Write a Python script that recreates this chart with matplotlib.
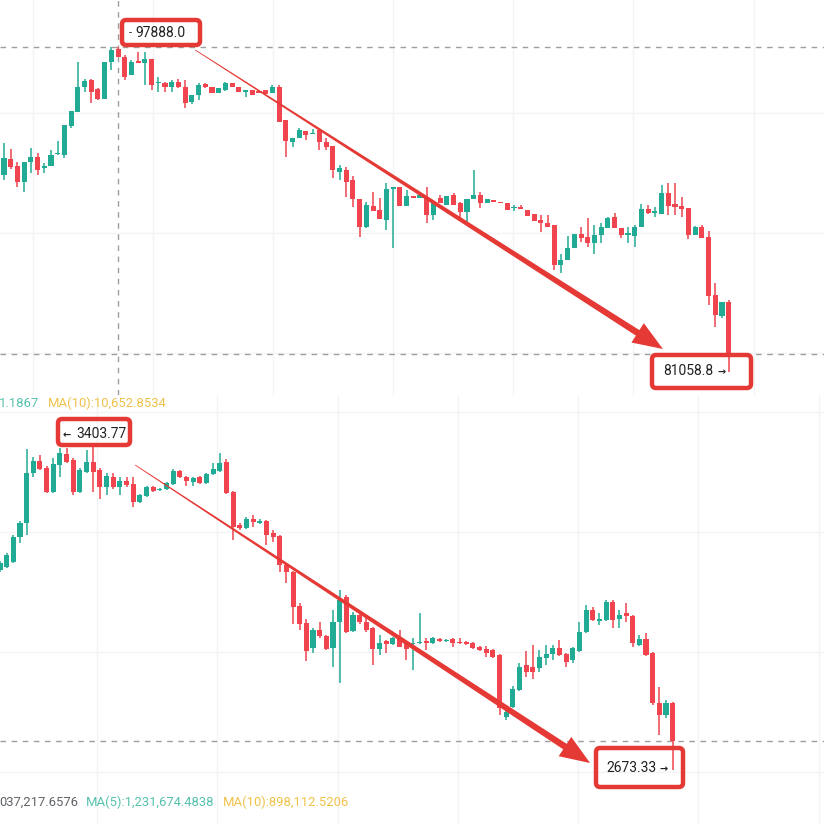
import matplotlib.pyplot as plt
import numpy as np
from matplotlib.patches import FancyBboxPatch, Polygon

# ---- BTC (top pane) candles, oldest -> newest ----
top_open = [90861, 91738, 91354, 90478, 91573, 91847, 91245, 91354, 92011, 91957,
            93545, 94312, 95681, 96064, 95571, 95024, 97050, 97762, 97324, 96338,
            97105, 96995, 97215, 95900, 95900, 95681, 95955, 95681, 94860, 95243,
            95845, 95681, 95352, 95517, 95900, 95681, 95407, 95517, 95462, 95517,
            95352, 95681, 93874, 92669, 92888, 93271, 93107, 93326, 92669, 92450,
            91026, 91135, 90587, 89547, 88014, 89164, 88945, 88397, 90094, 90204,
            89164, 89711, 89602, 89657, 88671, 89602, 89218, 89766, 89328, 88835,
            89547, 89766, 89328, 89492, 89383, 89328, 89054, 89109, 88945, 88725,
            88397, 88233, 88123, 85932, 86206, 86863, 87630, 87466, 87137, 87575,
            87959, 88561, 87959, 87575, 87521, 88014, 88999, 88780, 88725, 89876,
            89273, 89164, 89054, 87575, 88014, 87466, 84289, 83139, 83905]
top_high = [92614, 92285, 91573, 91573, 92340, 92066, 91518, 92231, 92723, 93600,
            94367, 97050, 96119, 96119, 95626, 97050, 97888, 97872, 97434, 97160,
            97598, 97598, 97215, 96229, 95955, 96064, 96119, 96064, 95243, 95900,
            95900, 95681, 95626, 95955, 95900, 95681, 95517, 95517, 95462, 95517,
            95791, 95791, 93874, 92888, 93436, 93271, 93381, 93326, 92888, 92450,
            91409, 91300, 90806, 89547, 89383, 89930, 89602, 90423, 90204, 90204,
            90040, 89711, 89766, 90204, 89383, 89766, 89711, 89876, 89383, 89547,
            91135, 89930, 89547, 89492, 89383, 89328, 89218, 89218, 88945, 88725,
            88671, 88671, 88123, 86534, 87521, 87630, 88014, 88506, 88123, 88233,
            88561, 88780, 87959, 88014, 88123, 89273, 89218, 89109, 90314, 90423,
            90423, 89657, 89054, 88068, 88123, 87795, 84946, 83905, 84015]
top_low = [90587, 91190, 90204, 89930, 90971, 90861, 90971, 91354, 91957, 91792,
           93436, 94312, 95407, 94805, 94969, 95024, 96612, 97324, 96064, 96338,
           96995, 95791, 95517, 95407, 95407, 95407, 95626, 94531, 94750, 94969,
           95626, 95352, 95352, 95462, 95681, 95407, 95133, 95243, 95352, 95298,
           95352, 93764, 91847, 92395, 92888, 92778, 93107, 92231, 92231, 90697,
           90587, 89657, 89109, 87466, 87959, 88890, 88452, 87849, 86863, 89164,
           89164, 89602, 89602, 88233, 88397, 89328, 89218, 89218, 88561, 88287,
           89547, 89054, 89328, 89383, 89328, 88945, 88890, 88999, 88616, 88342,
           87740, 88014, 85658, 85494, 86206, 86863, 87192, 86918, 86534, 87137,
           87959, 87959, 87411, 87137, 86918, 88014, 88725, 88561, 88725, 88671,
           88671, 88561, 87356, 87575, 87411, 83741, 82536, 83029, 80071]
top_close = [91792, 91300, 90478, 91573, 91847, 91135, 91354, 91957, 92066, 93600,
             94367, 95681, 96010, 95407, 95024, 97050, 97708, 97324, 96229, 97050,
             96995, 97215, 95791, 95955, 95681, 95955, 95681, 94805, 95243, 95791,
             95681, 95352, 95626, 95900, 95681, 95407, 95517, 95243, 95352, 95298,
             95681, 93764, 92723, 92888, 93326, 93052, 93162, 92669, 92395, 91135,
             91245, 90478, 89547, 88014, 89218, 88890, 88452, 90094, 90204, 89164,
             89711, 89602, 89766, 88671, 89383, 89328, 89711, 89218, 88835, 89547,
             89766, 89328, 89547, 89383, 89328, 88945, 89109, 88999, 88616, 88342,
             88233, 88014, 85932, 86206, 86863, 87630, 87411, 87137, 87575, 88014,
             88506, 87959, 87575, 87685, 88014, 88999, 88780, 88890, 89876, 89164,
             89109, 88999, 87575, 88014, 87411, 84234, 83193, 83905, 81058.8]

# ---- ETH (bottom pane) candles ----
bot_open = [3098, 3106, 3118, 3180, 3215, 3339, 3369, 3352, 3292, 3359,
            3386, 3372, 3292, 3342, 3367, 3347, 3304, 3329, 3304, 3319,
            3312, 3267, 3282, 3304, 3297, 3299, 3312, 3344, 3329, 3317,
            3329, 3314, 3337, 3344, 3367, 3292, 3210, 3203, 3225, 3215,
            3220, 3190, 3183, 3111, 3093, 3009, 2967, 2904, 2949, 2934,
            2904, 2969, 3031, 2947, 2986, 2969, 2954, 2902, 2922, 2914,
            2929, 2917, 2914, 2917, 2922, 2917, 2927, 2922, 2927, 2919,
            2919, 2917, 2907, 2902, 2899, 2887, 2733, 2758, 2800, 2862,
            2857, 2855, 2880, 2890, 2904, 2890, 2875, 2897, 2944, 2999,
            2972, 2974, 3019, 2976, 2991, 2984, 2912, 2927, 2892, 2768,
            2738, 2768]
bot_high = [3121, 3140, 3185, 3220, 3399, 3379, 3384, 3357, 3376, 3402,
            3401, 3376, 3352, 3396, 3403.77, 3352, 3339, 3339, 3329, 3329,
            3329, 3287, 3307, 3307, 3302, 3317, 3349, 3347, 3332, 3329,
            3332, 3339, 3364, 3389, 3374, 3295, 3215, 3230, 3235, 3225,
            3222, 3198, 3185, 3116, 3096, 3016, 2976, 2954, 2969, 2937,
            2999, 3049, 3036, 2994, 2989, 2979, 2957, 2937, 2924, 2932,
            2949, 2919, 2929, 2991, 2929, 2932, 2929, 2927, 2929, 2929,
            2922, 2919, 2909, 2909, 2902, 2890, 2758, 2810, 2867, 2897,
            2912, 2899, 2912, 2912, 2924, 2892, 2907, 2969, 3011, 3006,
            2991, 3024, 3024, 2999, 3016, 2986, 2937, 2942, 2895, 2808,
            2775, 2770]
bot_low = [3093, 3103, 3116, 3165, 3185, 3329, 3347, 3290, 3290, 3329,
           3364, 3285, 3290, 3339, 3292, 3275, 3285, 3299, 3285, 3304,
           3255, 3265, 3280, 3292, 3295, 3297, 3309, 3327, 3307, 3307,
           3312, 3312, 3334, 3342, 3287, 3173, 3198, 3200, 3205, 3213,
           3160, 3168, 3093, 3066, 2964, 2949, 2872, 2892, 2929, 2899,
           2857, 2817, 2942, 2944, 2964, 2944, 2862, 2887, 2892, 2912,
           2907, 2875, 2850, 2914, 2899, 2914, 2919, 2919, 2907, 2914,
           2912, 2902, 2897, 2882, 2880, 2738, 2725, 2755, 2798, 2832,
           2827, 2845, 2862, 2875, 2885, 2857, 2867, 2895, 2942, 2972,
           2962, 2972, 2954, 2954, 2969, 2907, 2909, 2885, 2763, 2688,
           2730, 2601]
bot_close = [3116, 3136, 3180, 3215, 3339, 3369, 3349, 3292, 3362, 3389,
             3367, 3292, 3347, 3367, 3342, 3304, 3332, 3304, 3319, 3309,
             3267, 3285, 3304, 3295, 3299, 3314, 3344, 3329, 3319, 3327,
             3314, 3337, 3349, 3364, 3290, 3205, 3203, 3225, 3217, 3220,
             3185, 3180, 3111, 3093, 3006, 2964, 2897, 2949, 2934, 2902,
             2969, 3024, 2944, 2986, 2969, 2949, 2902, 2917, 2914, 2929,
             2907, 2902, 2917, 2919, 2917, 2929, 2922, 2924, 2917, 2917,
             2914, 2904, 2899, 2892, 2882, 2755, 2745, 2803, 2857, 2845,
             2845, 2882, 2890, 2904, 2887, 2870, 2904, 2944, 2999, 2974,
             2976, 3019, 2974, 2986, 2984, 2917, 2927, 2887, 2768, 2738,
             2768, 2673.33]

top_hi_label, top_lo_label = 97888.0, 81058.8
bot_hi_label, bot_lo_label = 3403.77, 2673.33
ma_top = ['1.1867', 'MA(10):10,652.8534']
ma_bot = ['037,217.6576', 'MA(5):1,231,674.4838', 'MA(10):898,112.5206']

W = H = 824
UP = '#22ab94'
DOWN = '#f0444f'
RED = '#e53935'
GRID = '#f3f4f6'
DASH = '#9e9e9e'
TEAL = '#56c1ad'
GOLD = '#efc24a'
FONT = ['Roboto', 'DejaVu Sans']

fig = plt.figure(figsize=(8.24, 8.24), dpi=100)
fig.patch.set_facecolor('white')

split = 395  # pixel row between the two panes
ax1 = fig.add_axes([0, 1 - split / H, 1, split / H])
ax2 = fig.add_axes([0, 0, 1, 1 - split / H])

ax1.set_xlim(-4 / 6.71, (W - 4) / 6.71)
ax1.set_ylim(100446 - 54.77 * split, 100446)
ax2.set_xlim(0, W / 6.66)
ax2.set_ylim(4514.34 - 2.4845 * H, 4514.34 - 2.4845 * split)

ax1.set_xticks(np.arange(4.3, 122, 17.9))
ax1.set_yticks([94250, 87700, 81100])
ax2.set_xticks(np.arange(14.6, 124, 18.05))
ax2.set_yticks([3490, 3192, 2894, 2596])
for ax in (ax1, ax2):
    ax.set_facecolor('white')
    for s in ax.spines.values():
        s.set_visible(False)
    ax.tick_params(length=0, labelbottom=False, labelleft=False)
    ax.grid(True, color=GRID, lw=1)
    ax.set_axisbelow(True)


def draw_candles(ax, o, h, l, c, min_h):
    o, h, l, c = map(np.asarray, (o, h, l, c))
    x = np.arange(len(o))
    cols = np.where(c >= o, UP, DOWN)
    ax.vlines(x, l, h, colors=cols, lw=1.1, zorder=2)
    body = np.maximum(np.abs(c - o), min_h)
    ax.bar(x, body, bottom=np.minimum(o, c), width=0.76, color=cols,
           linewidth=0, zorder=3)


draw_candles(ax1, top_open, top_high, top_low, top_close, 60)
draw_candles(ax2, bot_open, bot_high, bot_low, bot_close, 2.5)

# dashed price lines and crosshair
ax1.axhline(top_hi_label, color=DASH, lw=1, ls=(0, (4, 4)), zorder=1)
ax1.axhline(top_lo_label, color=DASH, lw=1, ls=(0, (4, 4)), zorder=1)
ax1.axvline(17, color=DASH, lw=1, ls=(0, (4, 4)), zorder=1)
ax2.axhline(bot_lo_label, color=DASH, lw=1, ls=(0, (4, 4)), zorder=1)


def tapered_arrow(ax, start, tip, w0=0.8, w1=6.5, head_len=30, head_w=23):
    p0 = ax.transData.transform(start)
    p1 = ax.transData.transform(tip)
    d = p1 - p0
    u = d / np.hypot(*d)
    n = np.array([-u[1], u[0]])
    base = p1 - u * head_len
    pts = [p0 + n * w0 / 2, base + n * w1 / 2, base + n * head_w / 2, p1,
           base - n * head_w / 2, base - n * w1 / 2, p0 - n * w0 / 2]
    pts = fig.transFigure.inverted().transform(np.array(pts))
    fig.add_artist(Polygon(pts, closed=True, transform=fig.transFigure,
                           fc=RED, ec='none', zorder=5))


tapered_arrow(ax1, (28.5, 97708), (98.2, 81331))
tapered_arrow(ax2, (20.3, 3359), (88.6, 2618.6))


def box(x0, y0, x1, y1):
    fig.add_artist(FancyBboxPatch((x0 / W, 1 - y1 / H), (x1 - x0) / W, (y1 - y0) / H,
                                  boxstyle='round,pad=0,rounding_size=0.005',
                                  transform=fig.transFigure, fc='none', ec=RED,
                                  lw=3.2, zorder=6))


def txt(x, y, s, size=10, color='#212121', **kw):
    fig.text(x / W, 1 - y / H, s, ha='left', va='center', fontsize=size,
             family=FONT, color=color, zorder=7, **kw)


box(122, 20, 200, 45)
txt(129, 33, '-', 8)
txt(135, 33, f'{top_hi_label:.1f}')
box(652, 355, 751, 388)
txt(663, 371, f'{top_lo_label:.1f}')
txt(717, 372, '→', 7, weight='bold')

box(58, 419, 130, 445)
txt(63, 435, '←', 7, weight='bold')
txt(76, 434, f'{bot_hi_label:.2f}')
box(596, 748, 683, 787)
txt(606, 768, f'{bot_lo_label:.2f}')
txt(660, 769, '→', 7, weight='bold')

# moving-average header lines
txt(-1, 403, ma_top[0], 9.4, TEAL)
txt(48, 403, ma_top[1], 9.4, GOLD)
txt(-1, 802, ma_bot[0], 9.4, '#5f6368')
txt(86, 802, ma_bot[1], 9.4, TEAL)
txt(223, 802, ma_bot[2], 9.4, GOLD)

fig.savefig('out.png', dpi=100, facecolor='white')
